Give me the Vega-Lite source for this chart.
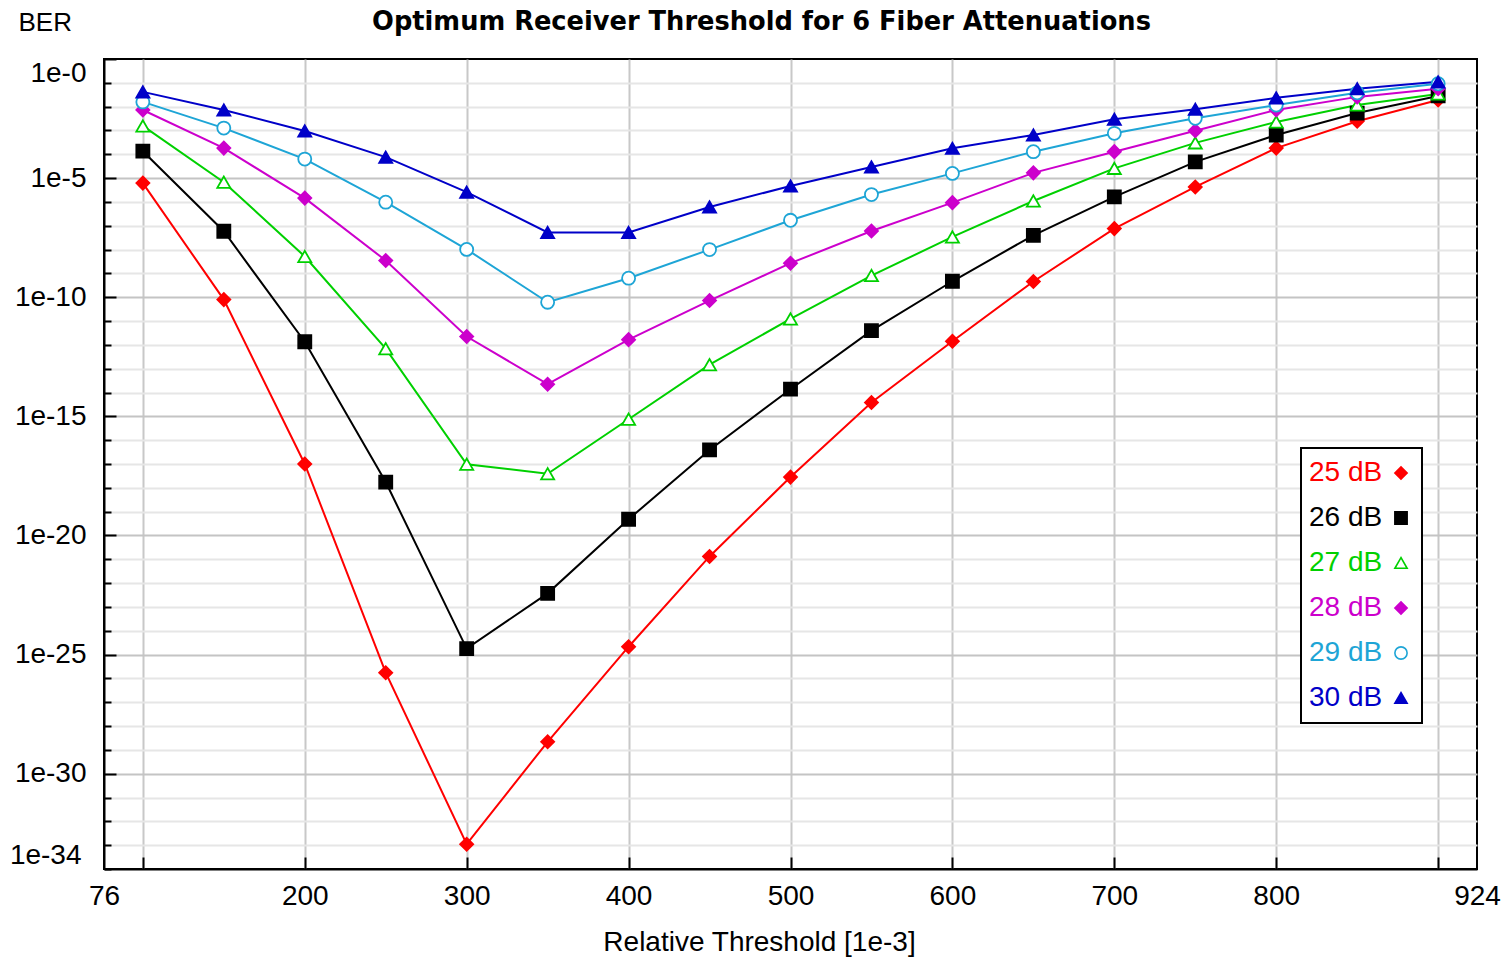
{
  "$schema": "https://vega.github.io/schema/vega-lite/v6.json",
  "width": 1373,
  "height": 810,
  "autosize": {"type": "none"},
  "padding": {"left": 104, "top": 59, "right": 32, "bottom": 88},
  "background": "white",
  "title": {
    "text": "Optimum Receiver Threshold for 6 Fiber Attenuations",
    "font": "DejaVu Sans",
    "fontSize": 25.7,
    "fontWeight": "bold",
    "color": "#000",
    "anchor": "middle",
    "dx": -29,
    "dy": 47,
    "baseline": "alphabetic",
    "offset": 0
  },
  "config": {
    "view": {"stroke": "#000", "strokeWidth": 2},
    "axis": {
      "labelFont": "Liberation Sans",
      "labelFontSize": 28,
      "labelColor": "#000",
      "titleFont": "Liberation Sans",
      "titleFontSize": 28,
      "titleFontWeight": "normal",
      "titleColor": "#000",
      "domainColor": "#000",
      "domainWidth": 2,
      "tickColor": "#000",
      "tickWidth": 2,
      "gridWidth": 2
    },
    "legend": {
      "orient": "none",
      "legendX": 1197,
      "legendY": 389,
      "strokeColor": "#000",
      "strokeWidth": 2,
      "fillColor": "#fff",
      "padding": 11,
      "labelFont": "Liberation Sans",
      "labelFontSize": 28,
      "symbolSize": 150,
      "symbolStrokeWidth": 1.6,
      "labelOffset": -106,
      "symbolOffset": 75,
      "rowPadding": 17
    }
  },
  "data": {
    "values": [
      {"x": 100, "s": "25 dB", "ber": 6.17e-6},
      {"x": 150, "s": "25 dB", "ber": 7.94e-11},
      {"x": 200, "s": "25 dB", "ber": 1.0e-17},
      {"x": 250, "s": "25 dB", "ber": 1.74e-26},
      {"x": 300, "s": "25 dB", "ber": 1.10e-33},
      {"x": 350, "s": "25 dB", "ber": 2.19e-29},
      {"x": 400, "s": "25 dB", "ber": 2.14e-25},
      {"x": 450, "s": "25 dB", "ber": 1.32e-21},
      {"x": 500, "s": "25 dB", "ber": 2.82e-18},
      {"x": 550, "s": "25 dB", "ber": 3.80e-15},
      {"x": 600, "s": "25 dB", "ber": 1.41e-12},
      {"x": 650, "s": "25 dB", "ber": 4.57e-10},
      {"x": 700, "s": "25 dB", "ber": 7.59e-8},
      {"x": 750, "s": "25 dB", "ber": 4.27e-6},
      {"x": 800, "s": "25 dB", "ber": 1.82e-4},
      {"x": 850, "s": "25 dB", "ber": 2.45e-3},
      {"x": 900, "s": "25 dB", "ber": 1.91e-2},

      {"x": 100, "s": "26 dB", "ber": 1.35e-4},
      {"x": 150, "s": "26 dB", "ber": 5.89e-8},
      {"x": 200, "s": "26 dB", "ber": 1.35e-12},
      {"x": 250, "s": "26 dB", "ber": 1.74e-18},
      {"x": 300, "s": "26 dB", "ber": 1.78e-25},
      {"x": 350, "s": "26 dB", "ber": 3.72e-23},
      {"x": 400, "s": "26 dB", "ber": 4.79e-20},
      {"x": 450, "s": "26 dB", "ber": 3.89e-17},
      {"x": 500, "s": "26 dB", "ber": 1.38e-14},
      {"x": 550, "s": "26 dB", "ber": 3.98e-12},
      {"x": 600, "s": "26 dB", "ber": 4.68e-10},
      {"x": 650, "s": "26 dB", "ber": 3.98e-8},
      {"x": 700, "s": "26 dB", "ber": 1.62e-6},
      {"x": 750, "s": "26 dB", "ber": 4.79e-5},
      {"x": 800, "s": "26 dB", "ber": 6.46e-4},
      {"x": 850, "s": "26 dB", "ber": 5.37e-3},
      {"x": 900, "s": "26 dB", "ber": 2.82e-2},

      {"x": 100, "s": "27 dB", "ber": 1.55e-3},
      {"x": 150, "s": "27 dB", "ber": 6.76e-6},
      {"x": 200, "s": "27 dB", "ber": 5.13e-9},
      {"x": 250, "s": "27 dB", "ber": 6.92e-13},
      {"x": 300, "s": "27 dB", "ber": 9.77e-18},
      {"x": 350, "s": "27 dB", "ber": 3.89e-18},
      {"x": 400, "s": "27 dB", "ber": 7.59e-16},
      {"x": 450, "s": "27 dB", "ber": 1.48e-13},
      {"x": 500, "s": "27 dB", "ber": 1.23e-11},
      {"x": 550, "s": "27 dB", "ber": 8.13e-10},
      {"x": 600, "s": "27 dB", "ber": 3.39e-8},
      {"x": 650, "s": "27 dB", "ber": 1.10e-6},
      {"x": 700, "s": "27 dB", "ber": 2.57e-5},
      {"x": 750, "s": "27 dB", "ber": 3.02e-4},
      {"x": 800, "s": "27 dB", "ber": 2.29e-3},
      {"x": 850, "s": "27 dB", "ber": 1.17e-2},
      {"x": 900, "s": "27 dB", "ber": 3.39e-2},

      {"x": 100, "s": "28 dB", "ber": 7.24e-3},
      {"x": 150, "s": "28 dB", "ber": 1.82e-4},
      {"x": 200, "s": "28 dB", "ber": 1.45e-6},
      {"x": 250, "s": "28 dB", "ber": 3.47e-9},
      {"x": 300, "s": "28 dB", "ber": 2.24e-12},
      {"x": 350, "s": "28 dB", "ber": 2.24e-14},
      {"x": 400, "s": "28 dB", "ber": 1.66e-12},
      {"x": 450, "s": "28 dB", "ber": 7.24e-11},
      {"x": 500, "s": "28 dB", "ber": 2.69e-9},
      {"x": 550, "s": "28 dB", "ber": 6.03e-8},
      {"x": 600, "s": "28 dB", "ber": 9.33e-7},
      {"x": 650, "s": "28 dB", "ber": 1.66e-5},
      {"x": 700, "s": "28 dB", "ber": 1.29e-4},
      {"x": 750, "s": "28 dB", "ber": 9.77e-4},
      {"x": 800, "s": "28 dB", "ber": 7.24e-3},
      {"x": 850, "s": "28 dB", "ber": 2.57e-2},
      {"x": 900, "s": "28 dB", "ber": 5.62e-2},

      {"x": 100, "s": "29 dB", "ber": 1.58e-2},
      {"x": 150, "s": "29 dB", "ber": 1.26e-3},
      {"x": 200, "s": "29 dB", "ber": 6.31e-5},
      {"x": 250, "s": "29 dB", "ber": 9.77e-7},
      {"x": 300, "s": "29 dB", "ber": 1.02e-8},
      {"x": 350, "s": "29 dB", "ber": 6.17e-11},
      {"x": 400, "s": "29 dB", "ber": 6.31e-10},
      {"x": 450, "s": "29 dB", "ber": 1.0e-8},
      {"x": 500, "s": "29 dB", "ber": 1.70e-7},
      {"x": 550, "s": "29 dB", "ber": 2.04e-6},
      {"x": 600, "s": "29 dB", "ber": 1.58e-5},
      {"x": 650, "s": "29 dB", "ber": 1.29e-4},
      {"x": 700, "s": "29 dB", "ber": 7.59e-4},
      {"x": 750, "s": "29 dB", "ber": 3.24e-3},
      {"x": 800, "s": "29 dB", "ber": 1.17e-2},
      {"x": 850, "s": "29 dB", "ber": 3.80e-2},
      {"x": 900, "s": "29 dB", "ber": 9.12e-2},

      {"x": 100, "s": "30 dB", "ber": 4.17e-2},
      {"x": 150, "s": "30 dB", "ber": 7.24e-3},
      {"x": 200, "s": "30 dB", "ber": 9.55e-4},
      {"x": 250, "s": "30 dB", "ber": 7.59e-5},
      {"x": 300, "s": "30 dB", "ber": 2.57e-6},
      {"x": 350, "s": "30 dB", "ber": 5.25e-8},
      {"x": 400, "s": "30 dB", "ber": 5.25e-8},
      {"x": 450, "s": "30 dB", "ber": 6.17e-7},
      {"x": 500, "s": "30 dB", "ber": 4.68e-6},
      {"x": 550, "s": "30 dB", "ber": 2.95e-5},
      {"x": 600, "s": "30 dB", "ber": 1.78e-4},
      {"x": 650, "s": "30 dB", "ber": 6.46e-4},
      {"x": 700, "s": "30 dB", "ber": 2.95e-3},
      {"x": 750, "s": "30 dB", "ber": 7.76e-3},
      {"x": 800, "s": "30 dB", "ber": 2.34e-2},
      {"x": 850, "s": "30 dB", "ber": 5.62e-2},
      {"x": 900, "s": "30 dB", "ber": 1.10e-1}
    ]
  },
  "encoding": {
    "x": {
      "field": "x",
      "type": "quantitative",
      "scale": {"domain": [76, 924], "nice": false, "zero": false},
      "axis": {
        "values": [76, 100, 200, 300, 400, 500, 600, 700, 800, 900, 924],
        "labelExpr": "datum.value == 100 || datum.value == 900 ? '' : datum.label",
        "labelFlush": false,
        "tickSize": -12,
        "labelPadding": 25,
        "tickOpacity": {"condition": {"test": "datum.value == 76 || datum.value == 924", "value": 0}, "value": 1},
        "gridColor": "#c8c8c8",
        "gridOpacity": {"condition": {"test": "datum.value == 76 || datum.value == 924", "value": 0}, "value": 1},
        "title": "Relative Threshold [1e-3]",
        "titleX": 655,
        "titleY": 81,
        "titleAlign": "center",
        "titleBaseline": "alphabetic",
        "titleAnchor": null
      }
    },
    "y": {
      "field": "ber",
      "type": "quantitative",
      "scale": {"type": "log", "domain": [1e-34, 1], "nice": false},
      "axis": {
        "values": [1, 1e-1, 1e-2, 1e-3, 1e-4, 1e-5, 1e-6, 1e-7, 1e-8, 1e-9, 1e-10, 1e-11, 1e-12, 1e-13, 1e-14, 1e-15, 1e-16, 1e-17, 1e-18, 1e-19, 1e-20, 1e-21, 1e-22, 1e-23, 1e-24, 1e-25, 1e-26, 1e-27, 1e-28, 1e-29, 1e-30, 1e-31, 1e-32, 1e-33, 1e-34],
        "labelExpr": "(round(-log(datum.value)/LN10) % 5 == 0 || round(-log(datum.value)/LN10) == 34) ? '1e-' + round(-log(datum.value)/LN10) : ''",
        "labelFlush": true,
        "labelPadding": 30,
        "tickSize": {"condition": {"test": "round(-log(datum.value)/LN10) % 5 == 0", "value": -12}, "value": -7},
        "gridColor": {"condition": {"test": "round(-log(datum.value)/LN10) % 5 == 0", "value": "#c4c4c4"}, "value": "#e6e6e6"},
        "gridOpacity": {"condition": {"test": "datum.value == 1 || datum.value < 2e-34", "value": 0}, "value": 1},
        "title": "BER",
        "titleFontSize": 26,
        "titleAngle": 0,
        "titleX": -86,
        "titleY": -37,
        "titleAlign": "left",
        "titleBaseline": "middle",
        "titleAnchor": null
      }
    }
  },
  "layer": [
    {
      "mark": {"type": "line", "strokeWidth": 2},
      "encoding": {
        "color": {
          "field": "s",
          "type": "nominal",
          "scale": {"range": ["#ff0000", "#000000", "#00d000", "#cc00cc", "#1ea5d6", "#0000c8"]},
          "legend": null
        },
        "order": {"field": "x", "type": "quantitative"}
      }
    },
    {
      "mark": {"type": "point", "size": 170, "strokeWidth": 1.8, "opacity": 1},
      "encoding": {
        "stroke": {
          "field": "s",
          "type": "nominal",
          "scale": {"domain": ["25 dB", "26 dB", "27 dB", "28 dB", "29 dB", "30 dB"], "range": ["#ff0000", "#000000", "#00d000", "#cc00cc", "#1ea5d6", "#0000c8"]},
          "legend": {
            "title": null,
            "labelColor": {"expr": "datum.label == '25 dB' ? '#ff0000' : datum.label == '26 dB' ? '#000000' : datum.label == '27 dB' ? '#00d000' : datum.label == '28 dB' ? '#cc00cc' : datum.label == '29 dB' ? '#1ea5d6' : '#0000c8'"}
          }
        },
        "fill": {
          "field": "s",
          "type": "nominal",
          "scale": {"domain": ["25 dB", "26 dB", "27 dB", "28 dB", "29 dB", "30 dB"], "range": ["#ff0000", "#000000", "#ffffff", "#cc00cc", "#ffffff", "#0000c8"]},
          "legend": {
            "title": null,
            "labelColor": {"expr": "datum.label == '25 dB' ? '#ff0000' : datum.label == '26 dB' ? '#000000' : datum.label == '27 dB' ? '#00d000' : datum.label == '28 dB' ? '#cc00cc' : datum.label == '29 dB' ? '#1ea5d6' : '#0000c8'"}
          }
        },
        "shape": {
          "field": "s",
          "type": "nominal",
          "scale": {"domain": ["25 dB", "26 dB", "27 dB", "28 dB", "29 dB", "30 dB"], "range": ["diamond", "square", "triangle-up", "diamond", "circle", "triangle-up"]},
          "legend": {
            "title": null,
            "labelColor": {"expr": "datum.label == '25 dB' ? '#ff0000' : datum.label == '26 dB' ? '#000000' : datum.label == '27 dB' ? '#00d000' : datum.label == '28 dB' ? '#cc00cc' : datum.label == '29 dB' ? '#1ea5d6' : '#0000c8'"}
          }
        }
      }
    }
  ]
}
